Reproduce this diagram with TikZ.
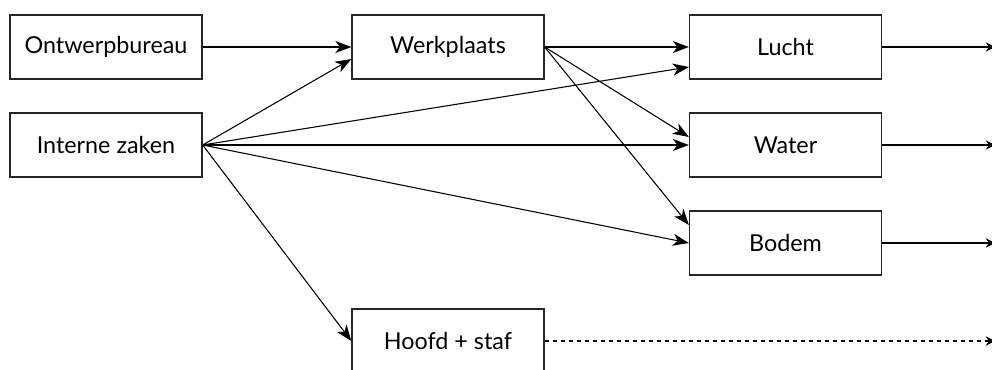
\documentclass[tikz,border=0pt]{standalone}
\usepackage{fontspec}
\setmainfont{Lato}
\usetikzlibrary{arrows.meta}
\begin{document}
\begin{tikzpicture}[x=0.75pt,y=-0.75pt,
  unit/.style={draw=black!85,line width=1pt,minimum width=144pt,minimum height=48pt,
    inner sep=0pt,font=\fontsize{17.5}{20}\selectfont},
  flow/.style={line width=0.8pt,-{Stealth[length=12pt,width=9pt,inset=3.5pt]}},
  outflow/.style={line width=0.8pt,-{Stealth[length=7pt,width=7pt,inset=2.5pt]}}]
\useasboundingbox (0,0) rectangle (992,370);
% organisational units
\node[unit] (ontwerp) at (106,47) {Ontwerpbureau};
\node[unit] (intern) at (106,145) {Interne zaken};
\node[unit] (werk) at (448,47) {Werkplaats};
\node[unit] (lucht) at (785.5,47) {Lucht};
\node[unit] (water) at (785.5,145) {Water};
\node[unit] (bodem) at (785.5,243) {Bodem};
\node[unit] (hoofd) at (448,341) {Hoofd + staf};
% free ends at the right border
\coordinate (outL) at (995,47);
\coordinate (outW) at (995,145);
\coordinate (outB) at (995,243);
\coordinate (outH) at (995,341);
% internal flows
\draw[flow] (ontwerp.east) -- (werk.west);
\draw[flow] (intern.east) -- ([yshift=-9pt]werk.west);
\draw[flow] (intern.east) -- ([yshift=-15pt]lucht.west);
\draw[flow] (intern.east) -- (water.west);
\draw[flow] (intern.east) -- (bodem.west);
\draw[flow] (intern.east) -- (hoofd.west);
\draw[flow] (werk.east) -- (lucht.west);
\draw[flow] (werk.east) -- ([yshift=6pt]water.west);
\draw[flow] (werk.east) -- ([yshift=13.5pt]bodem.west);
% outgoing flows
\draw[outflow] (lucht.east) -- (outL);
\draw[outflow] (water.east) -- (outW);
\draw[outflow] (bodem.east) -- (outB);
\draw[outflow,dashed] (hoofd.east) -- (outH);
\end{tikzpicture}
\end{document}
